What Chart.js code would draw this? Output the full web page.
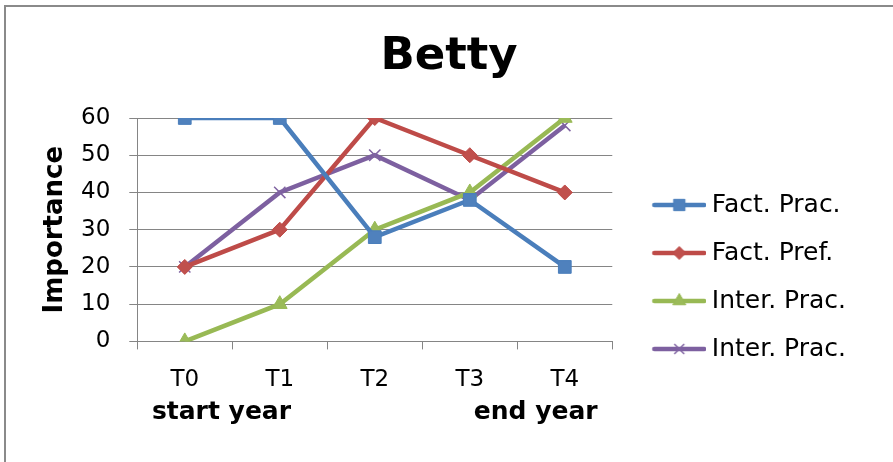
<!DOCTYPE html>
<html>
<head>
<meta charset="utf-8">
<title>Betty</title>
<script src="https://cdn.jsdelivr.net/npm/chart.js@4.4.0/dist/chart.umd.min.js"></script>
<style>
    html, body { margin: 0; padding: 0; background: #fff; overflow: hidden; }
    #wrap { position: relative; width: 893px; height: 462px; }
    /* chart frame: only left and top edges fall inside the window */
    #frame { position: absolute; left: 4px; top: 5px; width: 1200px; height: 800px;
             border-left: 2px solid #8a8a8a; border-top: 2px solid #8a8a8a; }
    #chart { position: absolute; left: 0; top: 0; }
</style>
</head>
<body>
<div id="wrap">
    <div id="frame"></div>
    <canvas id="chart" width="893" height="462"></canvas>
</div>
<script>
// ===== DATI =====
const categories = ['T0', 'T1', 'T2', 'T3', 'T4'];
const seriesNames = ['Fact. Prac.', 'Fact. Pref.', 'Inter. Prac.', 'Inter. Prac.'];
const factPrac = [60, 60, 28, 38, 20];
const factPref = [20, 30, 60, 50, 40];
const interPrac = [0, 10, 30, 40, 60];
const interPrac2 = [20, 40, 50, 38, 58];
const yTicks = [0, 10, 20, 30, 40, 50, 60];

const FONT = '"DejaVu Sans", Verdana, sans-serif';
const GRID = '#858585';

// stile linee e marker per serie
const styles = [
    { line: '#4a7ebb', fill: '#4f81bd', pointStyle: 'rect', radius: 9, border: 1 },
    { line: '#be4b48', fill: '#c0504d', pointStyle: 'rectRot', radius: 7.5, border: 1 },
    { line: '#98b954', fill: '#9bbb59', pointStyle: 'triangle', radius: 8.5, border: 1 },
    { line: '#7d60a0', fill: '#8064a2', pointStyle: 'crossRot', radius: 8, border: 1.5 }
];
const seriesData = [factPrac, factPref, interPrac, interPrac2];

// Icona legenda: tratto di linea con marker al centro
function legendIcon(st) {
    const c = document.createElement('canvas');
    c.width = 78;
    c.height = 20;
    const g = c.getContext('2d');
    g.strokeStyle = st.line;
    g.lineWidth = 4.5;
    g.lineCap = 'round';
    g.beginPath();
    g.moveTo(26, 10);
    g.lineTo(76, 10);
    g.stroke();
    g.fillStyle = st.fill;
    g.strokeStyle = st.pointStyle === 'crossRot' ? st.fill : st.line;
    g.lineWidth = st.border;
    g.lineCap = 'butt';
    Chart.helpers.drawPoint(g, {
        pointStyle: st.pointStyle,
        radius: st.radius - 1,
        rotation: 0,
        borderWidth: st.border
    }, 51, 10);
    return c;
}
const legendIcons = styles.map(legendIcon);

const datasets = seriesData.map((data, i) => ({
    label: seriesNames[i],
    data: data,
    borderColor: styles[i].line,
    backgroundColor: styles[i].fill,
    borderWidth: 4.5,
    tension: 0,
    pointStyle: styles[i].pointStyle,
    pointRadius: styles[i].radius,
    pointBackgroundColor: styles[i].fill,
    pointBorderColor: styles[i].pointStyle === 'crossRot' ? styles[i].fill : styles[i].line,
    pointBorderWidth: styles[i].border,
    fill: false
}));

const chart = new Chart(document.getElementById('chart'), {
    type: 'line',
    data: {
        labels: categories,
        datasets: datasets
    },
    options: {
        responsive: false,
        animation: false,
        layout: {
            padding: { left: 42, right: 37, top: 30, bottom: 34 }
        },
        plugins: {
            title: {
                display: true,
                text: 'Betty',
                color: '#000',
                font: { family: FONT, size: 45, weight: 'bold' },
                padding: { top: 0, bottom: 34 }
            },
            legend: {
                position: 'right',
                maxWidth: 400,
                // titolo vuoto: spinge le voci verso il basso
                title: {
                    display: true,
                    text: ' ',
                    font: { family: FONT, size: 10 },
                    padding: { top: 84, bottom: 0 }
                },
                labels: {
                    usePointStyle: true,
                    pointStyleWidth: 64,
                    padding: 23,
                    color: '#000',
                    font: { family: FONT, size: 25 },
                    generateLabels: function(chart) {
                        return chart.data.datasets.map((ds, i) => ({
                            text: ds.label,
                            fontColor: '#000',
                            pointStyle: legendIcons[i],
                            fillStyle: 'rgba(0,0,0,0)',
                            strokeStyle: 'rgba(0,0,0,0)',
                            lineWidth: 0,
                            hidden: false,
                            datasetIndex: i
                        }));
                    }
                }
            },
            tooltip: { enabled: false }
        },
        scales: {
            x: {
                offset: true,
                grid: {
                    offset: true,
                    drawOnChartArea: false,
                    drawTicks: true,
                    tickLength: 8,
                    color: GRID,
                    lineWidth: 1
                },
                border: { color: GRID, width: 1 },
                ticks: {
                    color: '#000',
                    padding: 17,
                    font: { family: FONT, size: 23 }
                },
                title: {
                    display: true,
                    text: 'start year' + ' '.repeat(21) + 'end year',
                    color: '#000',
                    font: { family: FONT, size: 25, weight: 'bold' },
                    padding: { top: -14, bottom: 1 }
                }
            },
            y: {
                min: yTicks[0],
                max: yTicks[yTicks.length - 1],
                afterBuildTicks: function(axis) {
                    axis.ticks = yTicks.map(v => ({ value: v }));
                },
                grid: {
                    color: GRID,
                    lineWidth: 1,
                    tickLength: 8
                },
                border: { color: GRID, width: 1 },
                ticks: {
                    color: '#000',
                    padding: 19,
                    font: { family: FONT, size: 23 }
                },
                title: {
                    display: true,
                    text: 'Importance',
                    color: '#000',
                    font: { family: FONT, size: 26, weight: 'bold', lineHeight: 1 },
                    padding: { top: 0, bottom: -6 }
                }
            }
        }
    }
});
</script>
</body>
</html>
